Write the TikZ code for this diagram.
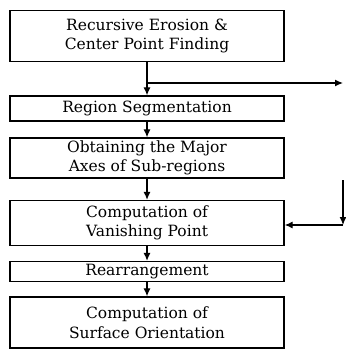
\documentclass[tikz,border=0pt]{standalone}
\usepackage{fontspec}
\setmainfont{DejaVu Serif}
\usetikzlibrary{arrows.meta}
\tikzset{
  stepbox/.style={draw, line width=1.3pt, minimum width=274pt, inner sep=0.5pt,
    align=center, font=\fontsize{15.5}{19.5}\selectfont},
  flow/.style={line width=1.2pt, -{Latex[length=8pt,width=7pt]}}
}

\begin{document}
\begin{tikzpicture}[x=1pt, y=-1pt]
        \useasboundingbox (0,0) rectangle (345,358);
        % boxes
        \node[stepbox, minimum height=51pt] (erode) at (147,36) {Recursive Erosion \&\\Center Point Finding};
        \node[stepbox, minimum height=25pt] (segment) at (147,108.5) {Region Segmentation};
        \node[stepbox, minimum height=40pt] (axes) at (147,158) {Obtaining the Major\\Axes of Sub-regions};
        \node[stepbox, minimum height=45pt] (vanish) at (147,223) {Computation of\\Vanishing Point};
        \node[stepbox, minimum height=20pt] (rearr) at (147,271.5) {Rearrangement};
        \node[stepbox, minimum height=51pt] (surface) at (147,322.5) {Computation of\\Surface Orientation};
        % branch to the right
        \coordinate (branch) at (147,83);
        \coordinate (out) at (343,83);
        \coordinate (in) at (343,180);
        \coordinate (corner) at (343,225);
        % main flow
        \draw[line width=1.2pt] (erode) -- (branch);
        \draw[flow] (branch) -- (segment);
        \draw[flow] (branch) -- (out);
        \draw[flow] (segment) -- (axes);
        \draw[flow] (axes) -- (vanish);
        \draw[flow] (vanish) -- (rearr);
        \draw[flow] (rearr) -- (surface);
        % feedback
        \draw[flow] (in) -- (corner);
        \draw[flow] (corner) -- (vanish.east |- corner);
\end{tikzpicture}
\end{document}
